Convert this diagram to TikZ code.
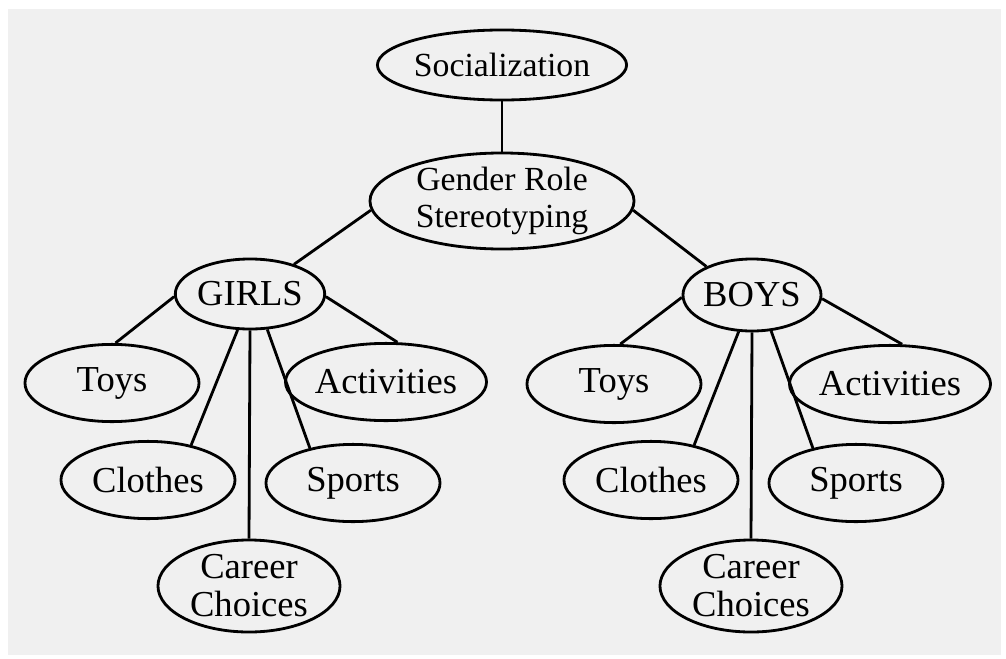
\documentclass[tikz,border=0pt]{standalone}
\usepackage{fontspec}
\setmainfont{Liberation Serif}
\usetikzlibrary{shapes.geometric}

\begin{document}
\begin{tikzpicture}[x=0.025cm, y=-0.025cm, line width=2pt,
	bubble/.style={draw, ellipse, inner sep=0pt, align=center,
		minimum width=4.35cm, minimum height=1.93cm,
		font=\fontsize{26}{27}\selectfont}]
		\useasboundingbox (0,0) rectangle (1006,658);
		\fill[black!6] (8,9) rectangle (1001,655);
		% top of the tree
		\node[bubble, minimum width=5.62cm, minimum height=1.75cm,
			font=\fontsize{24}{26}\selectfont] (S) at (502,65) {Socialization};
		\node[bubble, minimum width=6.6cm, minimum height=2.4cm,
			font=\fontsize{24}{26}\selectfont] (R) at (502,201) {Gender Role\\Stereotyping};
		\node[bubble, minimum width=3.45cm, minimum height=1.75cm] (G) at (250,294) {GIRLS};
		\node[bubble, minimum width=3.45cm, minimum height=1.8cm] (B) at (752,295) {BOYS};
		% girls
		\node[bubble] (G1) at (112,383) {Toys};
		\node[bubble] (G2) at (386,382) {Activities};
		\node[bubble] (G3) at (148,480) {Clothes};
		\node[bubble] (G4) at (353,483) {Sports};
		\node[bubble, minimum width=4.55cm, minimum height=2.3cm] (G5) at (249,586) {Career\\Choices};
		% boys
		\node[bubble] (B1) at (614,384) {Toys};
		\node[bubble] (B2) at (890,384) {Activities};
		\node[bubble] (B3) at (651,480) {Clothes};
		\node[bubble] (B4) at (856,483) {Sports};
		\node[bubble, minimum width=4.55cm, minimum height=2.3cm] (B5) at (751,586) {Career\\Choices};
		\draw (S) -- (R);
		\draw (R.184) -- (G.34);
		\draw (R.-4) -- (B.148);
		\draw (G.182) -- (G1.85);
		\draw (G.-2) -- (G2.74);
		\draw (G.251) -- (G3.39);
		\draw (G.-64) -- (G4.141);
		\draw (G.south) -- (G5.north);
		\draw (B.182) -- (B1.81);
		\draw (B.-3) -- (B2.73);
		\draw (B.-110) -- (B3.39);
		\draw (B.-62) -- (B4.141);
		\draw (B.south) -- (B5.north);
		\end{tikzpicture}
\end{document}
